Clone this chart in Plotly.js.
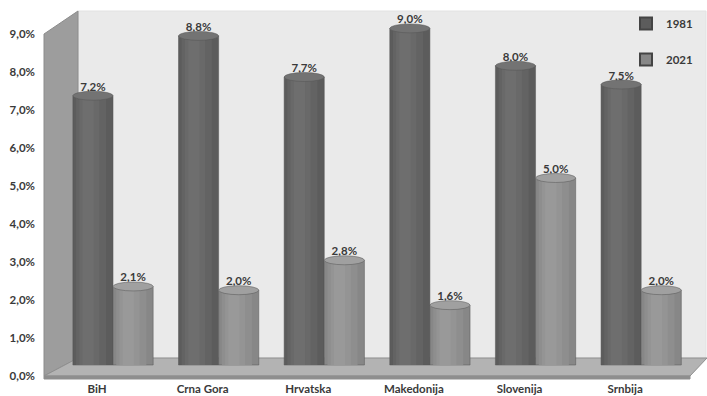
<!DOCTYPE html>
<html><head><meta charset="utf-8">
<script src="https://cdn.plot.ly/plotly-3.0.1.min.js"></script>
<style>html,body{margin:0;padding:0;background:#fff;}</style>
</head><body>
<div id="chart" style="width:707px;height:396px;"></div>
<script>
const categories = ["BiH", "Crna Gora", "Hrvatska", "Makedonija", "Slovenija", "Srnbija"];
const years = ["1981", "2021"];
const values1981 = [7.2, 8.8, 7.7, 9.0, 8.0, 7.5];
const values2021 = [2.1, 2.0, 2.8, 1.6, 5.0, 2.0];
const yTicks = [0, 1, 2, 3, 4, 5, 6, 7, 8, 9];

// plot-area pixel geometry
const L = 46, R = 694, T = 14, B = 376;
const W = R - L, H = B - T;
const px = x => (x - L) / W;
const py = y => (B - y) / H;
const pxPerPct = 38; // axis scale: 0 at 376, 9 at 34

const idx = categories.map((c, i) => i);
const bw = 0.38;
const colors = {"1981": "#5c5c5c", "2021": "#878787"};
const shades = {"1981": ["#636363", "#696969", "#6e6e6e"], "2021": ["#8e8e8e", "#949494", "#999999"]};
const topColors = {"1981": "#737373", "2021": "#a0a0a0"};
const series = {"1981": values1981, "2021": values2021};
const offsets = {"1981": -bw, "2021": 0};
const labelFont = {family: "Lato, 'Open Sans', sans-serif", size: 11.5, color: "#3a3a3a", weight: "bold"};

const traces = [];
years.forEach(yr => {
  traces.push({
    type: "bar", name: yr, showlegend: false, yaxis: "y2",
    x: idx, y: series[yr], offset: offsets[yr], width: bw,
    marker: {color: colors[yr], line: {color: "#555", width: 0.5}},
    text: series[yr].map(v => v.toFixed(1).replace(".", ",") + "%"),
    texttemplate: "%{text}", textposition: "outside", cliponaxis: false,
    textfont: labelFont, hoverinfo: "skip"
  });
  // cylinder shading stripes
  const fr = [[0.08, 0.75], [0.16, 0.5], [0.24, 0.28]];
  fr.forEach((f, k) => {
    traces.push({
      type: "bar", showlegend: false, yaxis: "y2",
      x: idx, y: series[yr], offset: offsets[yr] + bw * f[0], width: bw * f[1],
      marker: {color: shades[yr][k], line: {width: 0}},
      hoverinfo: "skip", cliponaxis: false
    });
  });
});
// legend entries
years.forEach(yr => {
  traces.push({
    type: "scatter", mode: "markers", name: yr, legendgroup: yr, x: [null], y: [null],
    marker: {symbol: "square", size: 7, color: colors[yr], line: {color: "#444", width: 0.5}},
    hoverinfo: "skip"
  });
});
// dummy trace to activate xaxis2
traces.push({type: "scatter", x: [0], y: [0], xaxis: "x2", mode: "markers",
  marker: {opacity: 0}, showlegend: false, hoverinfo: "skip"});

function poly(pts, fill, line) {
  return {
    type: "path", xref: "paper", yref: "paper", layer: "below",
    path: "M " + pts.map(p => px(p[0]) + "," + py(p[1])).join(" L ") + " Z",
    fillcolor: fill, line: {color: line || fill, width: 1}
  };
}

const shapes = [
  poly([[78, 11], [706, 11], [706, 358], [78, 358]], "#eaeaea", "#e2e2e2"),
  poly([[44, 34], [78, 11], [78, 358], [44, 376]], "#9d9d9d", "#8c8c8c"),
  poly([[44, 376], [78, 358], [707, 358], [690, 376]], "#b3b3b3", "#8f8f8f"),
  poly([[44, 376], [690, 376], [690, 379], [44, 379]], "#8e8e8e", "#8e8e8e")
];
// cylinder tops
years.forEach(yr => {
  series[yr].forEach((v, i) => {
    shapes.push({
      type: "circle", xref: "x", yref: "y2", layer: "above",
      x0: i + offsets[yr], x1: i + offsets[yr] + bw,
      y0: v - 0.12, y1: v + 0.12,
      fillcolor: topColors[yr], line: {color: "#555555", width: 0.5}
    });
  });
});

// bar (back-wall) scale: 0 at 365px, 37.4px per percent
const y2lo = -(B - 365) / 37.4;
const y2hi = y2lo + H / 37.4;
const labelShift = 16 / ((R - 60.2) / 6); // category labels sit 16px left of bar pairs

const layout = {
  width: 707, height: 396,
  margin: {l: L, r: 707 - R, t: T, b: 396 - B, autoexpand: false},
  paper_bgcolor: "#ffffff",
  plot_bgcolor: "rgba(0,0,0,0)",
  separators: ",.",
  barmode: "overlay",
  showlegend: true,
  legend: {
    x: px(626), y: py(9), xanchor: "left", yanchor: "top",
    bgcolor: "rgba(0,0,0,0)",
    font: labelFont,
    tracegroupgap: 17, itemwidth: 30, itemsizing: "constant"
  },
  font: {family: "Lato, 'Open Sans', sans-serif", color: "#3a3a3a"},
  xaxis: {
    range: [-0.5, 5.5],
    domain: [px(60.2), 1],
    showticklabels: false, showgrid: false, zeroline: false, showline: false, ticks: ""
  },
  xaxis2: {
    overlaying: "x", anchor: "y",
    range: [-0.5 + labelShift, 5.5 + labelShift],
    domain: [px(60.2), 1],
    tickmode: "array", tickvals: idx, ticktext: categories,
    tickfont: {size: 11.5, color: "#3a3a3a", weight: "bold"},
    showgrid: false, zeroline: false, showline: false, ticks: "", ticklen: 0,
    ticklabelstandoff: 4
  },
  yaxis: {
    range: [0, H / pxPerPct], anchor: "free", position: 0,
    tickmode: "array", tickvals: yTicks,
    ticktext: yTicks.map(v => v.toFixed(1).replace(".", ",") + "%"),
    tickfont: {size: 11.5, color: "#3a3a3a", weight: "bold"},
    showgrid: false, zeroline: false, showline: false, ticks: "", ticklabelstandoff: 11
  },
  yaxis2: {
    range: [y2lo, y2hi], overlaying: "y", anchor: "x",
    showticklabels: false, showgrid: false, zeroline: false, showline: false, ticks: ""
  },
  shapes: shapes
};

Plotly.newPlot("chart", traces, layout, {displayModeBar: false, staticPlot: true});
</script>
</body></html>
